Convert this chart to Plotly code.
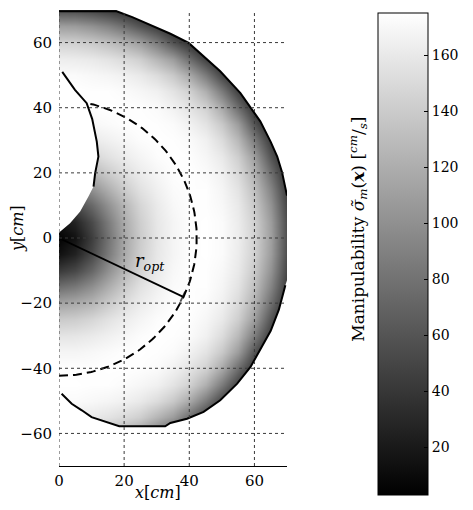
import numpy as np
import plotly.graph_objects as go

# ---------------- data ----------------
x_grid = [0, 5, 10, 15, 20, 25, 30, 35, 40, 45, 50, 55, 60, 65, 70]
y_grid = [-70, -65, -60, -55, -50, -45, -40, -35, -30, -25, -20, -15, -10, -5, 0,
          5, 10, 15, 20, 25, 30, 35, 40, 45, 50, 55, 60, 65, 70]

# manipulability values (rows = y_grid from -70 to 70, cols = x_grid)
z_rows = [
    [55, 54, 49, 42, 33, 21, 10, 10, 10, 10, 10, 10, 10, 10, 10],          # -70
    [110, 108, 101, 91, 77, 59, 42, 24, 10, 10, 10, 10, 10, 10, 10],       # -65
    [145, 144, 139, 132, 123, 110, 87, 60, 38, 15, 10, 10, 10, 10, 10],    # -60
    [163, 162, 160, 156, 150, 142, 125, 108, 77, 46, 21, 10, 10, 10, 10],  # -55
    [172, 172, 170, 168, 165, 160, 151, 138, 117, 85, 49, 21, 10, 10, 10], # -50
    [175, 175, 174, 174, 172, 169, 165, 156, 144, 120, 85, 46, 15, 10, 10],# -45
    [174, 174, 174, 175, 175, 174, 172, 166, 157, 144, 117, 77, 38, 10, 10],# -40
    [168, 168, 170, 172, 174, 175, 174, 172, 166, 156, 138, 108, 60, 21, 10],# -35
    [157, 158, 161, 165, 169, 173, 175, 174, 172, 165, 151, 127, 87, 42, 10],# -30
    [139, 141, 147, 155, 162, 168, 173, 175, 174, 169, 160, 142, 110, 59, 21],# -25
    [113, 117, 125, 139, 152, 162, 169, 174, 175, 172, 165, 150, 123, 77, 33],# -20
    [78, 85, 100, 120, 139, 155, 165, 172, 174, 174, 168, 156, 132, 91, 42],# -15
    [43, 52, 73, 100, 125, 146, 161, 170, 174, 174, 170, 160, 139, 101, 49],# -10
    [14, 26, 52, 85, 117, 142, 159, 168, 174, 175, 172, 162, 144, 108, 54], # -5
    [5, 15, 45, 80, 115, 140, 158, 168, 174, 175, 172, 163, 145, 110, 55],  # 0
    [15, 27, 53, 86, 118, 142, 159, 168, 174, 175, 172, 162, 144, 108, 54], # 5
    [45, 53, 74, 101, 126, 147, 161, 170, 174, 174, 170, 160, 139, 101, 49],# 10
    [80, 86, 101, 121, 140, 155, 165, 172, 174, 174, 168, 156, 132, 91, 42],# 15
    [115, 118, 126, 140, 152, 162, 169, 174, 175, 172, 165, 150, 123, 77, 33],# 20
    [140, 142, 147, 155, 162, 168, 173, 175, 174, 169, 160, 142, 110, 59, 21],# 25
    [158, 159, 161, 165, 169, 173, 175, 174, 172, 165, 151, 127, 87, 42, 10],# 30
    [168, 168, 170, 172, 174, 175, 174, 172, 166, 156, 138, 108, 60, 21, 10],# 35
    [174, 174, 174, 175, 175, 174, 172, 166, 157, 144, 117, 77, 38, 10, 10],# 40
    [175, 175, 174, 174, 172, 169, 165, 156, 144, 120, 85, 46, 15, 10, 10],# 45
    [172, 172, 170, 168, 165, 160, 151, 138, 117, 85, 49, 21, 10, 10, 10], # 50
    [163, 162, 160, 156, 150, 142, 125, 108, 77, 46, 21, 10, 10, 10, 10],  # 55
    [145, 144, 139, 132, 123, 110, 87, 60, 38, 15, 10, 10, 10, 10, 10],    # 60
    [110, 108, 101, 91, 77, 59, 42, 24, 10, 10, 10, 10, 10, 10, 10],       # 65
    [55, 54, 49, 42, 33, 21, 10, 10, 10, 10, 10, 10, 10, 10, 10],          # 70
]
z_min, z_max = 3, 175

# workspace boundary
top_edge_x = [0, 17.7]
top_edge_y = [69.6, 69.6]
outer_arc_x = [17.7, 22.5, 28, 34.2, 39.8, 44.5, 49.5, 55.7, 61.8, 65, 67, 68.5, 69.5, 70]
outer_arc_y = [69.6, 67.8, 65.5, 62.7, 59.9, 55.8, 51.2, 44.5, 35.8, 29.5, 25, 20.1, 15.8, 13]
lower_x = [70, 69.5, 67.5, 65, 61.5, 58.8, 54.7, 49.5, 44.4, 39.3, 34.2, 32.6, 18.5, 14.2, 10, 7, 3.9, 0.8]
lower_y = [-13, -14.5, -22, -28.5, -35, -39.6, -44.7, -49.8, -53.4, -55.5, -56.8, -57.8, -57.8, -56.5, -55, -52.9, -50.9, -47.8]
inner_x = [0, 1, 4.9, 8.5, 10.2, 11.6, 12.1, 11.1, 10.6, 9, 6.5, 3.4, 0.3, 0]
inner_y = [51.5, 51, 45.5, 41.4, 36.5, 29.6, 25, 19.9, 15.8, 12.7, 8.1, 4.5, 1.9, 1.5]
inner_line_n = 9  # first points of inner boundary drawn as solid line

r_opt = 42.3
r_opt_end = (38, -18)

x_ticks = [0, 20, 40, 60]
y_ticks = [-60, -40, -20, 0, 20, 40, 60]
cb_ticks = [20, 40, 60, 80, 100, 120, 140, 160]

FONT = "DejaVu Serif"

fig = go.Figure()

fig.add_trace(go.Heatmap(
    x=x_grid, y=y_grid, z=z_rows, zsmooth="best",
    zmin=z_min, zmax=z_max,
    colorscale=[[0, "black"], [1, "white"]],
    colorbar=dict(
        thickness=50, thicknessmode="pixels",
        len=482, lenmode="pixels",
        x=1.399, xanchor="left", y=0.9934, yanchor="top",
        xpad=0, ypad=0,
        outlinecolor="black", outlinewidth=1,
        tickvals=cb_ticks, ticks="inside", ticklen=4, tickcolor="black",
        tickfont=dict(family=FONT, size=14, color="black"),
    ),
    hoverinfo="skip",
))

# dashed circle of optimal radius
ang = np.linspace(-np.pi / 2, np.pi / 2, 200)
fig.add_trace(go.Scatter(
    x=r_opt * np.cos(ang), y=r_opt * np.sin(ang), mode="lines",
    line=dict(color="black", width=2, dash="9px,5px"), hoverinfo="skip",
))

# white masks outside workspace
fig.add_trace(go.Scatter(
    x=outer_arc_x + [73, 73, 17.7], y=outer_arc_y + [13, 73, 73],
    fill="toself", fillcolor="white", mode="none", hoverinfo="skip",
))
fig.add_trace(go.Scatter(
    x=lower_x + [0, -2, -2, 73, 73], y=lower_y + [-47.8, -47.8, -73, -73, -13],
    fill="toself", fillcolor="white", mode="none", hoverinfo="skip",
))
fig.add_trace(go.Scatter(
    x=inner_x + [-2, -2], y=inner_y + [1.5, 51.5],
    fill="toself", fillcolor="white", mode="none", hoverinfo="skip",
))

# boundary lines
line_style = dict(color="black", width=2)
fig.add_trace(go.Scatter(x=top_edge_x + outer_arc_x, y=top_edge_y + outer_arc_y,
                         mode="lines", line=line_style, hoverinfo="skip"))
fig.add_trace(go.Scatter(x=lower_x[1:], y=lower_y[1:], mode="lines", line=line_style, hoverinfo="skip"))
fig.add_trace(go.Scatter(x=inner_x[1:inner_line_n], y=inner_y[1:inner_line_n],
                         mode="lines", line=line_style, hoverinfo="skip"))

# r_opt line
fig.add_trace(go.Scatter(
    x=[0, r_opt_end[0]], y=[0, r_opt_end[1]], mode="lines+markers",
    line=dict(color="black", width=1.8),
    marker=dict(symbol=["line-ns", "line-ns"], size=[0, 8], angle=25,
                line=dict(color="black", width=1.8)),
    hoverinfo="skip",
))

# dashed grid lines drawn on top
grid_style = dict(color="#3a3a3a", width=1, dash="3px,3px")
shapes = []
for xv in x_ticks:
    shapes.append(dict(type="line", xref="x", yref="y", x0=xv, x1=xv, y0=-70, y1=70,
                       line=grid_style, layer="above"))
for yv in y_ticks:
    shapes.append(dict(type="line", xref="x", yref="y", x0=0, x1=70, y0=yv, y1=yv,
                       line=grid_style, layer="above"))

annotations = [
    dict(x=28, y=-7.5, xref="x", yref="y", text="<i>r</i><sub><i>opt</i></sub>",
         showarrow=False, font=dict(family=FONT, size=18, color="black")),
    dict(x=0.434, y=-0.0592, xref="paper", yref="paper", text="<i>x</i>[<i>cm</i>]",
         xanchor="center", yanchor="middle",
         showarrow=False, font=dict(family=FONT, size=16, color="black")),
    dict(x=-0.1842, y=0.5197, xref="paper", yref="paper", text="<i>y</i>[<i>cm</i>]",
         xanchor="center", yanchor="middle",
         textangle=-90, showarrow=False, font=dict(family=FONT, size=16, color="black")),
    dict(x=1.310, y=0.5197, xref="paper", yref="paper",
         xanchor="center", yanchor="middle",
         text="Manipulability <i>σ\u0303</i><sub><i>m</i></sub>(<b><i>x</i></b>) [<sup><i>cm</i></sup>/<sub><i>s</i></sub>]",
         textangle=-90, showarrow=False, font=dict(family=FONT, size=17, color="black")),
]

# the page body has an 8px margin on each side, so the figure is sized to fit
# the window without scrollbars
fig.update_layout(
    width=465, height=494,
    margin=dict(l=51, r=186, t=2, b=36, autoexpand=False),
    paper_bgcolor="white", plot_bgcolor="white",
    showlegend=False,
    shapes=shapes, annotations=annotations,
    xaxis=dict(range=[0, 70], tickvals=x_ticks, showgrid=False, zeroline=False,
               showline=True, linecolor="black", linewidth=1, ticks="",
               tickfont=dict(family=FONT, size=15, color="black"), ticklabelstandoff=1),
    yaxis=dict(range=[-70, 70], tickvals=y_ticks, showgrid=False, zeroline=False,
               showline=False, ticks="",
               tickfont=dict(family=FONT, size=15, color="black"), ticklabelstandoff=6),
)

fig.write_html("out.html")
